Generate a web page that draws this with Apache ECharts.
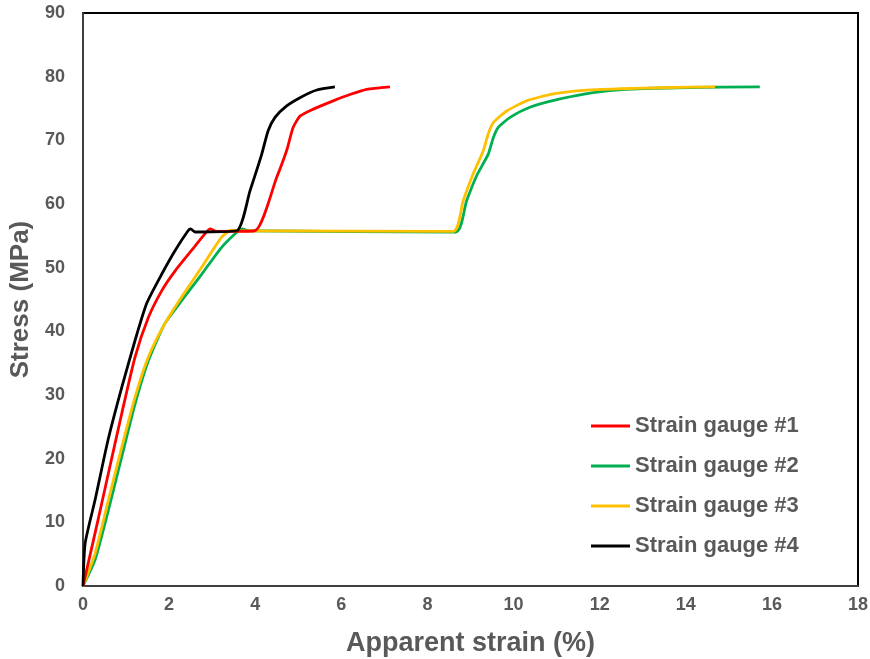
<!DOCTYPE html>
<html>
<head>
<meta charset="utf-8">
<script src="https://cdn.jsdelivr.net/npm/echarts@6/dist/echarts.min.js"></script>
<style>
  html, body { margin: 0; padding: 0; background: #fff; }
  #chart { width: 870px; height: 659px; }
</style>
</head>
<body>
<div id="chart"></div>
<script>
const seriesNames = ['Strain gauge #1', 'Strain gauge #2', 'Strain gauge #3', 'Strain gauge #4'];

// strain (%) / stress (MPa)
const gauge1Strain = [0, 0.28, 0.59, 0.9, 1.21, 1.52, 1.83, 2.14, 2.52, 2.83, 2.95, 3.1, 3.99, 4.5, 4.73, 4.88, 5.04, 5.35, 5.81, 6.2, 6.59, 7.13];
const gauge1Stress = [0, 8.3, 17.7, 27.1, 36, 42.2, 46.4, 49.5, 52.7, 55.3, 56.1, 55.7, 55.8, 64.2, 68.4, 72, 73.8, 74.9, 76.2, 77.2, 78, 78.4];

const gauge2Strain = [0, 0.28, 0.59, 0.9, 1.21, 1.52, 1.9, 2.29, 2.76, 3.22, 3.61, 3.7, 3.85, 8.66, 8.91, 9.14, 9.41, 9.53, 9.64, 9.92, 10.38, 11.08, 11.85, 12.62, 14.02, 15.72];
const gauge2Stress = [0, 4.1, 11.9, 20.3, 28.6, 35.4, 41.2, 44.8, 49, 53.2, 55.8, 56.1, 55.8, 55.6, 60.5, 64.4, 67.8, 70.4, 72, 73.6, 75.2, 76.5, 77.5, 78, 78.3, 78.4];

const gauge3Strain = [0, 0.28, 0.59, 0.9, 1.21, 1.52, 1.9, 2.29, 2.76, 3.22, 3.45, 3.6, 8.6, 8.83, 9.06, 9.3, 9.41, 9.53, 9.84, 10.3, 10.92, 11.7, 12.47, 13.63, 14.68];
const gauge3Stress = [0, 5.1, 13.5, 21.8, 29.7, 36, 41.2, 45.4, 50.1, 54.8, 55.9, 55.8, 55.7, 60.5, 64.7, 68.4, 71, 72.8, 74.6, 76.2, 77.3, 77.9, 78.1, 78.3, 78.4];

const gauge4Strain = [0, 0.05, 0.28, 0.58, 0.9, 1.21, 1.48, 1.83, 2.14, 2.44, 2.5, 2.6, 3.57, 3.88, 4.15, 4.3, 4.46, 4.73, 5.04, 5.43, 5.85];
const gauge4Stress = [0, 6.7, 13.5, 22.9, 31.2, 38.6, 44.4, 49, 52.7, 55.8, 56.1, 55.6, 55.8, 62.1, 67.8, 71.5, 73.6, 75.4, 76.7, 77.9, 78.4];

const colors = ['#ff0000', '#00b050', '#ffc000', '#000000'];
const textColor = '#595959';
const font = 'Liberation Sans, Arial, sans-serif';

const zip = (xs, ys) => xs.map((x, i) => [x, ys[i]]);
const gauges = [
  zip(gauge1Strain, gauge1Stress),
  zip(gauge2Strain, gauge2Stress),
  zip(gauge3Strain, gauge3Stress),
  zip(gauge4Strain, gauge4Stress),
];
// drawing order: green, yellow, red, black on top
const zOrder = [3, 1, 2, 4];

const chart = echarts.init(document.getElementById('chart'));

chart.setOption({
  animation: false,
  backgroundColor: '#fff',
  grid: {
    left: 83,
    right: 12,
    top: 13,
    bottom: 73,
    outerBoundsMode: 'none',
    show: true,
    borderColor: '#000',
    borderWidth: 2,
  },
  legend: {
    data: seriesNames,
    orient: 'vertical',
    left: 591,
    top: 415,
    padding: 0,
    icon: 'rect',
    itemWidth: 39,
    itemHeight: 3,
    itemGap: 18,
    textStyle: {
      color: textColor,
      fontFamily: font,
      fontSize: 22,
      fontWeight: 'bold',
      padding: [0, 0, 0, 0],
    },
  },
  xAxis: {
    type: 'value',
    min: 0,
    max: 18,
    interval: 2,
    name: 'Apparent strain (%)',
    nameLocation: 'middle',
    nameGap: 44,
    nameTextStyle: {
      color: textColor,
      fontFamily: font,
      fontSize: 27,
      fontWeight: 'bold',
    },
    axisLine: { show: true, lineStyle: { color: '#404040', width: 2 } },
    axisTick: { show: false },
    splitLine: { show: false },
    axisLabel: {
      color: textColor,
      fontFamily: font,
      fontSize: 18,
      fontWeight: 'bold',
      margin: 10,
    },
  },
  yAxis: {
    type: 'value',
    min: 0,
    max: 90,
    interval: 10,
    name: 'Stress (MPa)',
    nameLocation: 'middle',
    nameGap: 42,
    nameTextStyle: {
      color: textColor,
      fontFamily: font,
      fontSize: 26,
      fontWeight: 'bold',
    },
    axisLine: { show: true, lineStyle: { color: '#404040', width: 2 } },
    axisTick: { show: false },
    splitLine: { show: false },
    axisLabel: {
      color: textColor,
      fontFamily: font,
      fontSize: 18,
      fontWeight: 'bold',
      margin: 18,
    },
  },
  series: gauges.map((data, i) => ({
    name: seriesNames[i],
    type: 'line',
    data,
    z: zOrder[i],
    symbol: 'none',
    smooth: 0.2,
    color: colors[i],
    lineStyle: { color: colors[i], width: 2.8 },
  })),
});
</script>
</body>
</html>
